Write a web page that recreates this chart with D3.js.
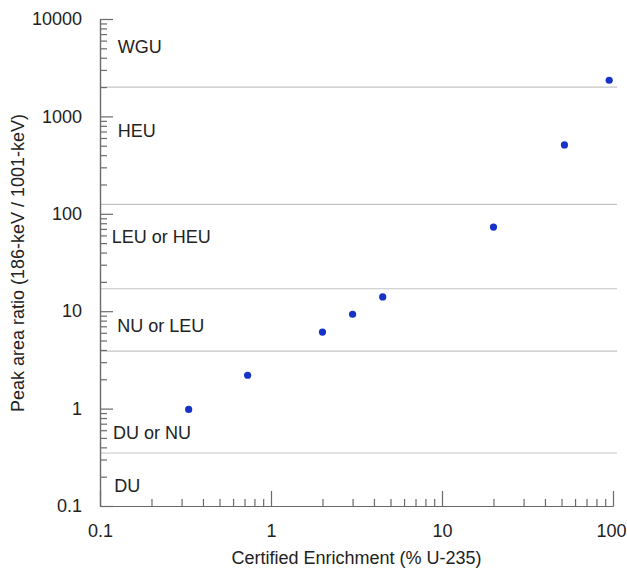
<!DOCTYPE html>
<html>
<head>
<meta charset="utf-8">
<script src="https://cdn.jsdelivr.net/npm/d3@7"></script>
<style>
  html, body { margin: 0; padding: 0; background: #fff; }
  svg { display: block; }
  text { font-family: 'Liberation Sans', Arial, Helvetica, sans-serif; fill: #222; }
</style>
</head>
<body>
<svg id="chart"></svg>
<script>
const width = 627
const height = 569
const margin = { top: 19, right: 14, bottom: 63, left: 100 }

// measured samples
const enrichment = [0.33, 0.73, 2.0, 3.0, 4.5, 20, 52, 95]
const peakRatio = [0.98, 2.2, 6.1, 9.3, 14, 73, 510, 2350]

// category boundaries (peak ratio)
const boundaries = [0.35, 3.9, 17, 125, 2000]

// category labels, placed in data units
const regionNames = ['WGU', 'HEU', 'LEU or HEU', 'NU or LEU', 'DU or NU', 'DU']
const regionLabelY = [4500, 615, 50, 6.1, 0.49, 0.14]
const regionLabelX = [0.127, 0.127, 0.117, 0.126, 0.119, 0.121]

const xTicks = [0.1, 1, 10, 100]
const yTicks = [0.1, 1, 10, 100, 1000, 10000]

const xTitle = 'Certified Enrichment (% U-235)'
const yTitle = 'Peak area ratio (186-keV / 1001-keV)'

const fontSize = '18px'

const svg = d3.select('#chart').attr('width', width).attr('height', height)

const x = d3.scaleLog()
  .domain([0.1, 100])
  .range([margin.left, width - margin.right])

const y = d3.scaleLog()
  .domain([0.1, 10000])
  .range([height - margin.bottom, margin.top])

const fmt = d => String(d)

// boundary lines
svg.append('g')
  .attr('class', 'layer__bounds')
  .selectAll('line')
  .data(boundaries)
  .enter()
  .append('line')
  .attr('x1', x.range()[0])
  .attr('x2', x.range()[1] + 4)
  .attr('y1', d => y(d))
  .attr('y2', d => y(d))
  .attr('stroke', '#c4c4c4')
  .attr('stroke-width', 1.2)

// minor ticks (no labels)
const xMinor = x.ticks().filter(d => !xTicks.includes(d))
const yMinor = y.ticks().filter(d => !yTicks.some(t => Math.abs(t - d) / t < 1e-9))

const xMinorAxis = svg.append('g')
  .attr('transform', `translate(0,${y.range()[0]})`)
  .call(d3.axisBottom(x).tickValues(xMinor).tickSize(-7).tickSizeOuter(0).tickFormat(''))

const yMinorAxis = svg.append('g')
  .attr('transform', `translate(${x.range()[0]},0)`)
  .call(d3.axisLeft(y).tickValues(yMinor).tickSize(-7).tickSizeOuter(0).tickFormat(''))

// major ticks
const xAxis = svg.append('g')
  .attr('transform', `translate(0,${y.range()[0]})`)
  .call(d3.axisBottom(x).tickValues(xTicks).tickSize(-15).tickSizeOuter(0).tickPadding(18).tickFormat(fmt))

const yAxis = svg.append('g')
  .attr('transform', `translate(${x.range()[0]},0)`)
  .call(d3.axisLeft(y).tickValues(yTicks).tickSize(-13).tickSizeOuter(0).tickPadding(18).tickFormat(fmt))

;[xMinorAxis, yMinorAxis, xAxis, yAxis].forEach(a => {
  a.selectAll('path, line').attr('stroke', '#6a6a6a').attr('stroke-width', 1.2)
  a.selectAll('text')
    .style('font-size', fontSize)
    .style('font-family', "'Liberation Sans', Arial, Helvetica, sans-serif")
    .attr('fill', '#222')
})

// last x label sits against the right edge
xAxis.selectAll('.tick text')
  .filter(d => d === 100)
  .attr('text-anchor', 'end')
  .attr('x', width - 1 - x(100))

// region labels
svg.append('g')
  .attr('class', 'layer__labels')
  .selectAll('text')
  .data(regionNames)
  .enter()
  .append('text')
  .attr('x', (d, i) => x(regionLabelX[i]))
  .attr('y', (d, i) => y(regionLabelY[i]))
  .style('font-size', fontSize)
  .text(d => d)

// points
svg.append('g')
  .attr('class', 'layer__points')
  .selectAll('circle')
  .data(enrichment)
  .enter()
  .append('circle')
  .attr('cx', d => x(d))
  .attr('cy', (d, i) => y(peakRatio[i]))
  .attr('r', 3.6)
  .attr('fill', '#1733c6')

// axis titles
svg.append('text')
  .attr('x', (x.range()[0] + x.range()[1]) / 2)
  .attr('y', 564)
  .attr('text-anchor', 'middle')
  .style('font-size', fontSize)
  .text(xTitle)

svg.append('text')
  .attr('transform', 'translate(24,263) rotate(-90)')
  .attr('text-anchor', 'middle')
  .style('font-size', fontSize)
  .text(yTitle)
</script>
</body>
</html>
